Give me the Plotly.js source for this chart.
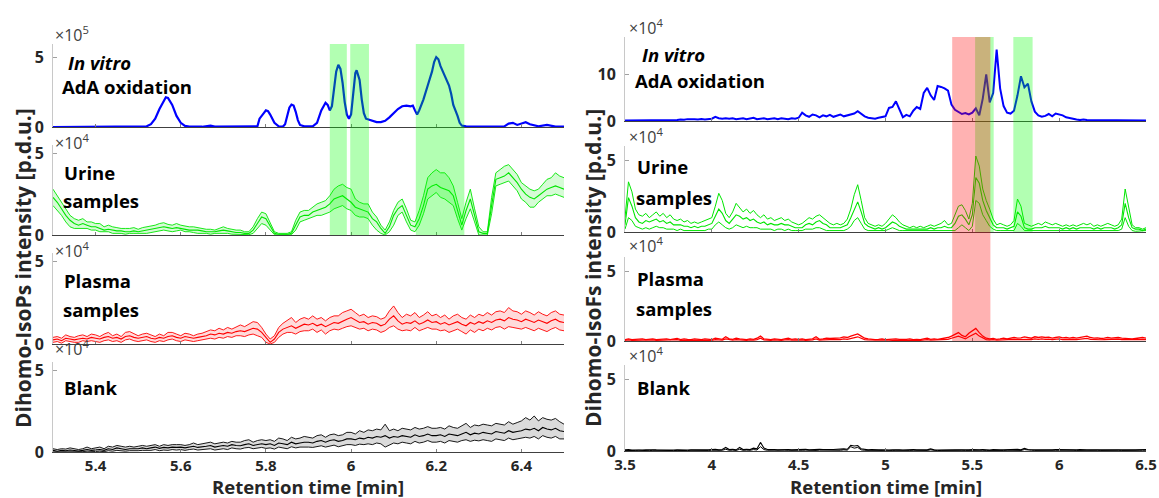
<!DOCTYPE html>
<html><head><meta charset="utf-8">
<script src="https://cdn.plot.ly/plotly-3.0.1.min.js"></script>
<style>html,body{margin:0;padding:0;background:#fff}#chart{width:1159px;height:498px}</style>
</head><body><div id="chart"></div>
<script>
// ---------- tick labels ----------
const leftTickVals = [5.4, 5.6, 5.8, 6.0, 6.2, 6.4];
const leftTickText = ["5.4", "5.6", "5.8", "6", "6.2", "6.4"];
const rightTickVals = [3.5, 4.0, 4.5, 5.0, 5.5, 6.0, 6.5];
const rightTickText = ["3.5", "4", "4.5", "5", "5.5", "6", "6.5"];

// ---------- LEFT panel (Dihomo-IsoPs), retention time 5.30..6.50 ----------
// In vitro AdA oxidation (x10^5)
const leftVitroT = [5.30,5.35,5.40,5.43,5.44,5.45,5.50,5.52,5.53,5.54,5.55,5.56,5.565,5.57,5.58,5.59,5.60,5.61,5.62,5.65,5.67,5.68,5.72,5.75,5.78,5.785,5.79,5.795,5.80,5.805,5.81,5.815,5.82,5.83,5.84,5.845,5.85,5.855,5.86,5.865,5.87,5.875,5.88,5.89,5.91,5.92,5.93,5.94,5.945,5.95,5.955,5.96,5.965,5.97,5.975,5.98,5.985,5.99,5.995,6.00,6.005,6.01,6.013,6.02,6.025,6.03,6.035,6.04,6.05,6.06,6.07,6.08,6.09,6.10,6.11,6.12,6.13,6.14,6.145,6.15,6.155,6.16,6.17,6.18,6.19,6.195,6.20,6.205,6.21,6.22,6.23,6.235,6.24,6.25,6.255,6.26,6.27,6.30,6.33,6.36,6.37,6.38,6.39,6.40,6.41,6.42,6.44,6.46,6.47,6.48,6.50];
const leftVitroY = [0,0.01,0.02,0.03,0.05,0.02,0.01,0.05,0.2,0.6,1.3,1.9,2.15,2.1,1.6,0.8,0.3,0.08,0.03,0.02,0.1,0.03,0.02,0.02,0.05,0.6,0.85,1.0,1.2,1.15,0.9,0.6,0.3,0.05,0.03,0.2,0.9,1.4,1.62,1.55,1.1,0.5,0.15,0.05,0.05,0.3,1.2,1.75,1.6,1.2,1.5,2.8,4.0,4.5,4.2,3.2,1.8,0.9,0.6,0.9,2.5,3.9,4.1,3.4,2.0,1.0,0.6,0.55,0.45,0.35,0.35,0.45,0.7,1.0,1.3,1.5,1.55,1.5,1.55,1.2,0.9,1.2,2.0,3.0,4.0,4.7,5.05,4.9,4.4,3.7,3.0,2.4,1.6,0.8,0.3,0.1,0.04,0.03,0.02,0.05,0.25,0.3,0.15,0.25,0.35,0.2,0.05,0.15,0.1,0.03,0.02];

// Urine samples (x10^4), step 0.01 min
const leftUrineHi = [2.8,2.4,2.0,1.6,1.2,1.0,0.9,1.0,0.8,0.8, 0.7,0.7,0.5,0.6,0.5,0.45,0.4,0.4,0.4,0.45, 0.35,0.45,0.5,0.55,0.6,0.7,0.75,0.65,0.6,0.7, 0.6,0.55,0.5,0.5,0.45,0.4,0.35,0.35,0.3,0.4, 0.5,0.4,0.35,0.3,0.3,0.2,0.2,0.5,1.0,1.4, 1.3,0.7,0.2,0.1,0.1,0.1,0.2,0.9,1.4,1.5, 1.5,1.7,1.9,2.0,2.1,2.4,2.8,3.0,3.1,2.9, 2.8,2.2,2.0,1.9,1.9,1.4,1.1,0.6,0.3,0.8, 1.5,2.0,2.2,1.6,0.9,0.8,1.5,2.4,3.5,3.8, 4.0,3.8,3.8,3.5,3.0,2.0,1.0,2.0,2.8,1.6, 0.5,0.2,0.2,2.3,3.8,4.0,4.2,4.3,4.0,3.7, 3.2,3.0,2.8,2.7,2.8,3.1,3.4,3.5,3.8,3.6, 3.5];
const leftUrineMid = [2.3,2.0,1.6,1.2,0.9,0.7,0.6,0.7,0.6,0.5, 0.5,0.4,0.3,0.35,0.3,0.25,0.25,0.2,0.2,0.25, 0.2,0.25,0.3,0.35,0.4,0.45,0.5,0.45,0.4,0.45, 0.4,0.35,0.3,0.3,0.3,0.25,0.2,0.2,0.2,0.25, 0.3,0.25,0.2,0.15,0.15,0.1,0.1,0.3,0.7,1.1, 1.0,0.5,0.1,0.05,0.05,0.05,0.1,0.6,1.1,1.2, 1.2,1.4,1.5,1.6,1.7,1.9,2.2,2.3,2.4,2.2, 2.0,1.7,1.6,1.5,1.4,1.0,0.8,0.4,0.1,0.5, 1.2,1.6,1.8,1.2,0.6,0.5,1.0,1.8,2.8,3.0, 3.1,2.9,2.8,2.7,2.4,1.5,0.6,1.5,2.2,1.2, 0.2,0.1,0.1,1.8,3.4,3.5,3.6,3.8,3.5,3.2, 2.8,2.5,2.3,2.2,2.4,2.6,2.8,2.9,3.0,2.9, 2.8];
const leftUrineLo = [1.8,1.5,1.2,0.8,0.5,0.4,0.4,0.4,0.4,0.3, 0.3,0.2,0.2,0.2,0.1,0.1,0.1,0.05,0.1,0.1, 0.1,0.1,0.1,0.15,0.2,0.25,0.3,0.25,0.2,0.25, 0.3,0.2,0.2,0.15,0.1,0.1,0.1,0.05,0.1,0.1, 0.1,0.1,0.05,0.05,0.05,0.02,0.02,0.1,0.4,0.7, 0.6,0.3,0.02,0,0,0,0.02,0.3,0.8,0.9, 1.0,1.1,1.2,1.2,1.3,1.4,1.6,1.7,1.8,1.6, 1.5,1.2,1.1,1.1,1.0,0.6,0.3,0.1,0,0.2, 0.6,1.2,1.4,0.8,0.3,0.2,0.6,1.3,2.2,2.4, 2.6,2.3,2.2,2.0,1.8,1.0,0.3,1.0,1.6,0.8, 0,0,0,1.3,3.0,3.1,3.2,3.3,3.0,2.7, 2.2,2.0,1.7,1.7,2.0,2.2,2.4,2.4,2.5,2.4, 2.3];

// Plasma samples (x10^4), step 0.01 min
const leftPlasmaHi = [0.4,0.45,0.35,0.55,0.45,0.4,0.5,0.55,0.45,0.6, 0.55,0.45,0.6,0.7,0.5,0.6,0.45,0.7,0.75,0.6, 0.5,0.6,0.65,0.55,0.45,0.6,0.5,0.7,0.7,0.6, 0.5,0.65,0.6,0.5,0.6,0.65,0.75,0.85,0.8,0.95, 0.85,1.0,0.9,1.05,1.15,1.05,1.2,1.35,1.3,1.0, 0.6,0.3,0.5,1.0,1.25,1.4,1.6,1.3,1.5,1.6, 1.5,1.7,1.5,1.6,1.4,1.6,1.7,1.7,1.9,2.0, 2.1,1.9,1.7,1.8,1.6,1.7,1.65,1.5,1.6,2.0, 2.3,1.9,1.6,1.8,1.7,1.9,1.6,1.75,1.95,1.7, 1.8,1.6,1.75,1.5,1.7,1.8,1.6,1.5,1.75,1.6, 1.8,1.7,1.9,1.75,1.95,2.0,1.9,2.2,2.0,1.95, 1.8,2.0,1.9,1.75,1.95,1.8,1.7,1.9,2.0,1.8, 1.75];
const leftPlasmaMid = [0.25,0.3,0.2,0.35,0.3,0.25,0.3,0.35,0.3,0.4, 0.35,0.3,0.4,0.45,0.35,0.4,0.3,0.45,0.5,0.4, 0.35,0.4,0.45,0.35,0.3,0.4,0.35,0.45,0.5,0.4, 0.35,0.45,0.4,0.35,0.4,0.45,0.5,0.6,0.55,0.65, 0.6,0.7,0.65,0.75,0.8,0.75,0.85,0.95,0.9,0.7, 0.4,0.1,0.3,0.7,0.9,1.0,1.1,0.95,1.1,1.2, 1.15,1.25,1.1,1.2,1.05,1.2,1.3,1.25,1.4,1.5, 1.6,1.45,1.3,1.35,1.2,1.3,1.25,1.1,1.2,1.5, 1.7,1.4,1.2,1.3,1.25,1.4,1.2,1.3,1.45,1.3, 1.35,1.2,1.3,1.15,1.25,1.35,1.2,1.1,1.3,1.2, 1.35,1.25,1.4,1.3,1.45,1.5,1.4,1.6,1.5,1.45, 1.35,1.5,1.4,1.3,1.45,1.35,1.25,1.4,1.5,1.35, 1.3];
const leftPlasmaLo = [0.1,0.15,0.05,0.2,0.15,0.1,0.1,0.2,0.15,0.2, 0.15,0.1,0.2,0.25,0.15,0.2,0.1,0.25,0.3,0.2, 0.15,0.2,0.25,0.15,0.1,0.2,0.15,0.25,0.3,0.2, 0.15,0.25,0.2,0.15,0.2,0.25,0.3,0.35,0.3,0.4, 0.35,0.45,0.4,0.5,0.5,0.45,0.55,0.6,0.5,0.4, 0.1,0,0.1,0.4,0.6,0.7,0.7,0.6,0.75,0.8, 0.8,0.9,0.7,0.85,0.6,0.8,0.9,0.85,0.95,1.05, 1.1,1.0,0.9,0.95,0.8,0.9,0.85,0.7,0.8,1.0, 1.1,0.9,0.8,0.85,0.8,1.0,0.8,0.9,1.0,0.9, 0.9,0.8,0.85,0.7,0.8,0.9,0.75,0.6,0.85,0.7, 0.9,0.8,0.95,0.85,1.0,1.05,0.9,1.05,1.0,0.95, 0.9,1.0,0.9,0.8,0.95,0.85,0.75,0.9,1.0,0.85, 0.8];

// Blank (x10^4), step 0.01 min
const leftBlankHi = [0.2,0.15,0.2,0.18,0.25,0.2,0.15,0.2,0.3,0.2, 0.25,0.3,0.2,0.35,0.3,0.4,0.35,0.3,0.35,0.3, 0.35,0.4,0.35,0.4,0.45,0.35,0.45,0.4,0.45,0.45, 0.45,0.4,0.45,0.55,0.45,0.5,0.55,0.6,0.5,0.55, 0.6,0.55,0.65,0.6,0.6,0.7,0.75,0.6,0.7,0.75, 0.7,0.75,0.65,0.85,0.8,0.7,0.9,0.8,0.85,0.95, 0.9,0.85,1.0,1.05,0.9,1.05,1.1,1.0,1.05,1.2, 1.2,1.1,1.3,1.2,1.35,1.3,1.4,1.35,1.7,1.3, 1.4,1.3,1.45,1.4,1.35,1.5,1.4,1.45,1.55,1.45, 1.45,1.5,1.4,1.6,1.5,1.45,1.6,1.75,1.5,1.65, 1.6,1.7,1.65,1.6,1.75,1.7,1.65,1.85,1.7,1.8, 1.9,2.1,1.95,2.2,1.9,2.1,2.0,1.95,2.05,1.85, 1.7];
const leftBlankMid = [0.1,0.05,0.1,0.08,0.12,0.1,0.06,0.1,0.15,0.1, 0.12,0.15,0.1,0.2,0.15,0.25,0.2,0.15,0.2,0.18, 0.2,0.25,0.2,0.25,0.3,0.22,0.28,0.25,0.3,0.28, 0.3,0.25,0.3,0.35,0.28,0.3,0.35,0.4,0.3,0.35, 0.4,0.35,0.45,0.4,0.38,0.45,0.5,0.4,0.45,0.5, 0.45,0.5,0.4,0.55,0.5,0.45,0.6,0.5,0.55,0.6, 0.6,0.55,0.65,0.7,0.6,0.7,0.75,0.65,0.7,0.8, 0.8,0.75,0.85,0.8,0.9,0.85,0.95,0.9,1.0,0.85, 0.95,0.9,1.0,0.95,0.9,1.05,0.95,1.0,1.1,1.0, 1.0,1.05,0.95,1.1,1.05,1.0,1.1,1.2,1.05,1.15, 1.1,1.2,1.15,1.1,1.25,1.2,1.15,1.3,1.2,1.25, 1.3,1.4,1.35,1.45,1.3,1.5,1.4,1.35,1.45,1.3, 1.25];
const leftBlankLo = [0,0,0.02,0,0.03,0.02,0,0.02,0.05,0.02, 0.03,0.05,0.02,0.08,0.05,0.1,0.08,0.05,0.08,0.06, 0.08,0.1,0.08,0.1,0.15,0.08,0.12,0.1,0.15,0.12, 0.15,0.1,0.15,0.18,0.12,0.15,0.18,0.2,0.12,0.18, 0.2,0.15,0.25,0.2,0.18,0.25,0.28,0.2,0.22,0.28, 0.22,0.25,0.18,0.3,0.25,0.2,0.32,0.25,0.3,0.32, 0.3,0.28,0.35,0.38,0.3,0.38,0.42,0.32,0.38,0.45, 0.45,0.4,0.48,0.45,0.5,0.45,0.55,0.5,0.3,0.45, 0.55,0.5,0.6,0.55,0.5,0.65,0.55,0.6,0.7,0.6, 0.6,0.65,0.55,0.7,0.65,0.6,0.7,0.75,0.65,0.72, 0.68,0.75,0.7,0.65,0.8,0.75,0.7,0.85,0.75,0.8, 0.85,0.9,0.85,0.95,0.8,1.0,0.9,0.85,0.95,0.8, 0.8];

// ---------- RIGHT panel (Dihomo-IsoFs), retention time 3.50..6.50, step 0.02 ----------
// In vitro AdA oxidation (x10^4)
const rightVitro = [0.1,0.1,0.15,0.1,0.1,0.15,0.1,0.15,0.2,0.1, 0.15,0.2,0.15,0.2,0.25,0.2,0.3,0.25,0.4,0.3, 0.35,0.3,0.4,0.3,0.35,0.5,0.9,0.6,0.5,0.6, 0.5,0.6,0.4,0.5,0.6,0.4,0.5,0.7,0.4,0.5, 0.6,0.4,0.5,0.6,0.4,0.6,0.5,0.4,0.6,0.5, 0.7,1.8,1.2,0.9,1.4,1.2,0.8,1.2,1.0,1.3, 0.9,1.1,1.4,1.0,1.2,1.3,1.6,2.1,1.5,1.0, 0.7,0.6,0.5,0.7,0.8,1.0,2.8,3.0,4.2,2.3, 0.8,1.3,1.0,2.2,3.0,2.6,6.0,7.1,5.5,4.5, 7.5,7.3,7.0,6.5,3.5,2.4,1.9,1.5,1.7,1.4, 1.8,2.7,1.2,4.8,10.0,4.0,6.0,15.3,7.0,3.2, 1.8,1.6,2.2,5.5,9.6,7.2,8.0,4.2,2.0,1.2, 0.9,1.1,1.5,1.0,1.6,1.4,1.2,0.8,0.6,0.4, 0.3,0.2,0.3,0.2,0.2,0.15,0.1,0.15,0.1,0.1, 0.1,0.15,0.1,0.1,0.1,0.15,0.1,0.1,0.1,0.1, 0.1];

// Urine samples (x10^4)
const rightUrineHi = [1.0,3.5,2.8,1.6,1.2,1.1,1.3,1.0,1.2,1.4, 1.1,1.3,1.0,1.2,0.9,0.8,0.9,0.7,0.8,0.6, 0.7,0.6,0.7,0.8,0.9,1.0,1.8,2.7,2.2,1.3, 1.0,1.4,2.0,1.7,1.4,1.6,1.3,1.5,1.2,1.0, 1.2,0.9,1.0,0.8,0.9,1.0,0.8,0.9,0.7,0.6, 0.5,0.6,0.8,1.0,0.9,1.1,1.2,1.0,0.8,0.6, 0.5,0.6,0.5,0.6,0.9,1.6,2.6,3.3,2.2,1.0, 0.6,0.5,0.4,0.5,0.4,0.6,0.9,1.2,1.0,0.7, 0.5,0.4,0.3,0.4,0.3,0.4,0.3,0.4,0.5,0.4, 0.5,0.6,0.8,0.5,0.6,1.2,1.8,1.9,1.5,0.9, 2.0,5.3,4.6,3.0,2.2,1.6,0.9,0.5,0.6,0.5, 0.4,0.5,0.8,2.3,1.8,0.6,0.5,0.4,0.5,0.6, 0.5,0.7,0.6,0.5,0.6,0.5,0.4,0.5,0.4,0.5, 0.4,0.5,0.6,0.5,0.6,0.4,0.5,0.4,0.5,0.6, 0.5,0.4,0.5,0.9,3.0,1.6,0.5,0.3,0.3,0.2, 0.3];
const rightUrineMid = [0.5,2.4,1.8,1.0,0.7,0.6,0.8,0.7,0.8,0.9, 0.7,0.8,0.6,0.7,0.5,0.5,0.5,0.4,0.4,0.3, 0.4,0.3,0.4,0.4,0.5,0.6,1.1,1.6,1.3,0.8, 0.6,0.9,1.2,1.1,0.9,1.0,0.8,0.9,0.7,0.6, 0.7,0.5,0.6,0.5,0.5,0.6,0.5,0.5,0.4,0.3, 0.3,0.3,0.5,0.6,0.5,0.7,0.8,0.6,0.5,0.3, 0.3,0.3,0.3,0.4,0.5,1.0,1.6,2.1,1.4,0.6, 0.4,0.3,0.2,0.3,0.2,0.3,0.5,0.7,0.6,0.4, 0.3,0.2,0.2,0.2,0.2,0.2,0.2,0.2,0.3,0.2, 0.3,0.3,0.4,0.3,0.3,0.6,1.1,1.2,0.9,0.5, 1.2,3.8,3.4,2.2,1.5,1.0,0.5,0.3,0.3,0.3, 0.2,0.3,0.4,1.4,1.1,0.3,0.2,0.2,0.3,0.3, 0.3,0.4,0.3,0.3,0.3,0.3,0.2,0.3,0.2,0.3, 0.2,0.3,0.3,0.3,0.3,0.2,0.3,0.2,0.3,0.3, 0.3,0.2,0.3,0.5,2.0,1.0,0.3,0.2,0.2,0.1, 0.2];
const rightUrineLo = [0.2,1.0,0.8,0.4,0.3,0.2,0.3,0.2,0.3,0.4, 0.3,0.3,0.2,0.2,0.2,0.1,0.2,0.1,0.1,0.1, 0.1,0.1,0.1,0.1,0.2,0.2,0.5,0.7,0.5,0.3, 0.2,0.3,0.5,0.4,0.3,0.4,0.3,0.3,0.3,0.2, 0.2,0.2,0.2,0.1,0.2,0.2,0.1,0.2,0.1,0.1, 0.1,0.1,0.2,0.2,0.2,0.3,0.3,0.2,0.1,0.1, 0.1,0.1,0.1,0.1,0.2,0.4,0.8,1.0,0.6,0.2, 0.1,0.1,0.1,0.1,0.1,0.1,0.2,0.3,0.2,0.1, 0.1,0.1,0.05,0.05,0.05,0.05,0.05,0.1,0.1,0.1, 0.1,0.1,0.1,0.1,0.1,0.1,0.3,0.5,0.3,0.1, 0.4,2.2,2.0,1.2,0.8,0.4,0.2,0.1,0.1,0.1, 0.1,0.1,0.1,0.6,0.4,0.1,0.1,0.05,0.1,0.1, 0.1,0.1,0.1,0.1,0.1,0.1,0.05,0.1,0.05,0.1, 0.05,0.1,0.1,0.1,0.1,0.05,0.1,0.05,0.1,0.1, 0.1,0.05,0.1,0.2,1.0,0.4,0.1,0.05,0.05,0.05, 0.1];

// Plasma samples (x10^4)
const rightPlasmaA = [0.1,0.15,0.1,0.12,0.1,0.15,0.1,0.12,0.15,0.1, 0.12,0.1,0.15,0.1,0.12,0.18,0.1,0.15,0.12,0.1, 0.15,0.12,0.1,0.15,0.12,0.1,0.2,0.15,0.12,0.3, 0.15,0.12,0.2,0.15,0.12,0.1,0.15,0.12,0.2,0.35, 0.15,0.12,0.1,0.15,0.12,0.1,0.15,0.2,0.12,0.15, 0.12,0.15,0.1,0.12,0.15,0.3,0.12,0.15,0.2,0.18, 0.2,0.25,0.22,0.3,0.25,0.35,0.4,0.5,0.35,0.2, 0.15,0.12,0.1,0.12,0.15,0.1,0.12,0.1,0.15,0.12, 0.1,0.12,0.15,0.1,0.12,0.1,0.15,0.2,0.12,0.15, 0.12,0.15,0.2,0.25,0.35,0.5,0.6,0.4,0.3,0.55, 0.7,0.9,0.6,0.35,0.2,0.15,0.18,0.12,0.15,0.2, 0.15,0.2,0.25,0.2,0.22,0.3,0.25,0.2,0.3,0.25, 0.3,0.25,0.28,0.2,0.25,0.3,0.22,0.25,0.2,0.25, 0.2,0.25,0.3,0.35,0.25,0.2,0.22,0.18,0.2,0.25, 0.2,0.22,0.25,0.2,0.18,0.2,0.15,0.18,0.2,0.25, 0.2];
const rightPlasmaB = [0.05,0.08,0.05,0.06,0.05,0.08,0.05,0.06,0.08,0.05, 0.06,0.05,0.08,0.05,0.06,0.1,0.05,0.08,0.06,0.05, 0.08,0.06,0.05,0.08,0.06,0.05,0.1,0.08,0.06,0.15, 0.08,0.06,0.1,0.08,0.06,0.05,0.08,0.06,0.1,0.2, 0.08,0.06,0.05,0.08,0.06,0.05,0.08,0.1,0.06,0.08, 0.06,0.08,0.05,0.06,0.08,0.15,0.06,0.08,0.1,0.1, 0.1,0.12,0.1,0.15,0.12,0.18,0.25,0.3,0.2,0.1, 0.08,0.06,0.05,0.06,0.08,0.05,0.06,0.05,0.08,0.06, 0.05,0.06,0.08,0.05,0.06,0.05,0.08,0.1,0.06,0.08, 0.06,0.08,0.1,0.12,0.2,0.3,0.35,0.25,0.15,0.3, 0.4,0.55,0.35,0.2,0.1,0.08,0.1,0.06,0.08,0.1, 0.08,0.1,0.12,0.1,0.12,0.15,0.12,0.1,0.15,0.12, 0.15,0.12,0.14,0.1,0.12,0.15,0.1,0.12,0.1,0.12, 0.1,0.12,0.15,0.18,0.12,0.1,0.12,0.09,0.1,0.12, 0.1,0.12,0.13,0.1,0.09,0.1,0.08,0.09,0.1,0.12, 0.1];

// Blank (x10^4)
const rightBlankA = [0.08,0.1,0.06,0.08,0.1,0.07,0.08,0.06,0.09,0.08, 0.07,0.08,0.06,0.09,0.07,0.08,0.06,0.08,0.07,0.09, 0.08,0.1,0.07,0.09,0.08,0.1,0.12,0.08,0.1,0.25, 0.1,0.12,0.08,0.25,0.1,0.12,0.1,0.2,0.15,0.6, 0.2,0.1,0.12,0.1,0.08,0.1,0.12,0.1,0.08,0.1, 0.08,0.1,0.12,0.08,0.1,0.08,0.12,0.1,0.08,0.1, 0.1,0.12,0.1,0.15,0.12,0.4,0.35,0.38,0.15,0.1, 0.08,0.1,0.07,0.09,0.08,0.1,0.07,0.08,0.1,0.08, 0.07,0.09,0.08,0.1,0.08,0.07,0.09,0.08,0.15,0.08, 0.07,0.08,0.1,0.08,0.07,0.09,0.08,0.1,0.08,0.09, 0.1,0.08,0.09,0.1,0.08,0.07,0.1,0.12,0.09,0.08, 0.1,0.08,0.09,0.12,0.08,0.18,0.1,0.09,0.08,0.1, 0.08,0.1,0.09,0.08,0.1,0.09,0.12,0.08,0.1,0.09, 0.08,0.1,0.12,0.09,0.08,0.1,0.09,0.08,0.1,0.09, 0.08,0.1,0.09,0.08,0.1,0.12,0.09,0.08,0.1,0.09, 0.1];
const rightBlankB = [0.03,0.05,0.02,0.04,0.05,0.03,0.04,0.02,0.05,0.04, 0.03,0.04,0.02,0.05,0.03,0.04,0.02,0.04,0.03,0.05, 0.04,0.05,0.03,0.05,0.04,0.05,0.06,0.04,0.05,0.12, 0.05,0.06,0.04,0.12,0.05,0.06,0.05,0.1,0.07,0.3, 0.1,0.05,0.06,0.05,0.04,0.05,0.06,0.05,0.04,0.05, 0.04,0.05,0.06,0.04,0.05,0.04,0.06,0.05,0.04,0.05, 0.05,0.06,0.05,0.08,0.06,0.3,0.2,0.25,0.08,0.05, 0.04,0.05,0.03,0.05,0.04,0.05,0.03,0.04,0.05,0.04, 0.03,0.05,0.04,0.05,0.04,0.03,0.05,0.04,0.08,0.04, 0.03,0.04,0.05,0.04,0.03,0.05,0.04,0.05,0.04,0.05, 0.05,0.04,0.05,0.05,0.04,0.03,0.05,0.06,0.05,0.04, 0.05,0.04,0.05,0.06,0.04,0.1,0.05,0.05,0.04,0.05, 0.04,0.05,0.05,0.04,0.05,0.05,0.06,0.04,0.05,0.05, 0.04,0.05,0.06,0.05,0.04,0.05,0.05,0.04,0.05,0.05, 0.04,0.05,0.05,0.04,0.05,0.06,0.05,0.04,0.05,0.05, 0.05];

// highlighted retention-time windows
const leftGreenWindows = [[5.950, 5.990], [5.998, 6.042], [6.152, 6.266]];
const rightRedWindows = [[5.384, 5.604]];
const rightGreenWindows = [[5.516, 5.623], [5.736, 5.847]];

// ---------- build ----------
function grid(a, d, n) { return Array.from({length: n}, (_, i) => +(a + i * d).toFixed(3)); }
const tL = grid(5.30, 0.01, leftUrineMid.length);
const tR = grid(3.50, 0.02, rightVitro.length);

const W = 1159, H = 498;
const px = v => v / W;
const py = v => 1 - v / H;

const traces = [];
function line(x, y, ax, color, width, extra) {
  traces.push(Object.assign({type: 'scatter', mode: 'lines', x: x, y: y,
    xaxis: 'x' + ax, yaxis: 'y' + ax, line: {color: color, width: width},
    hoverinfo: 'skip', showlegend: false}, extra || {}));
}
function band(x, lo, mid, hi, ax, color, fill) {
  line(x, lo, ax, color, 0.9);
  line(x, hi, ax, color, 0.9, {fill: 'tonexty', fillcolor: fill});
  line(x, mid, ax, color, 1.1);
}

line(leftVitroT, leftVitroY, '', '#0000ff', 2.2);
band(tL, leftUrineLo, leftUrineMid, leftUrineHi, 2, '#00e600', 'rgba(0,230,0,0.16)');
band(tL, leftPlasmaLo, leftPlasmaMid, leftPlasmaHi, 3, '#ff0000', 'rgba(255,0,0,0.14)');
band(tL, leftBlankLo, leftBlankMid, leftBlankHi, 4, '#000000', 'rgba(0,0,0,0.14)');

line(tR, rightVitro, 5, '#0000ff', 2);
line(tR, rightUrineLo, 6, '#00e600', 1);
line(tR, rightUrineHi, 6, '#00e600', 1);
line(tR, rightUrineMid, 6, '#00e600', 1.1);
line(tR, rightPlasmaB, 7, '#ff0000', 1.2);
line(tR, rightPlasmaA, 7, '#ff0000', 1.3);
line(tR, rightBlankB, 8, '#000000', 1);
line(tR, rightBlankA, 8, '#000000', 1.1);

const FONT = '"Open Sans", "Liberation Sans", Arial, sans-serif';
const layout = {
  width: W, height: H, margin: {l: 0, r: 0, t: 0, b: 0},
  paper_bgcolor: '#ffffff', plot_bgcolor: 'rgba(0,0,0,0)',
  showlegend: false, font: {family: FONT, color: '#262626'},
  shapes: [], annotations: []
};

// panel geometry in pixels: [x0, x1], and for each row [top, bottom]
const panels = [
  {x: [53, 564], rows: [[44, 127], [145, 235], [253, 344], [362, 452]], ranges: [[0, 6], [0, 5.5], [0, 5.5], [0, 5.5]],
   xr: [5.3, 6.5], tv: leftTickVals, tt: leftTickText, yt: [[0, 5], [0, 5], [0, 5], [0, 5]], first: 1},
  {x: [625, 1146], rows: [[37, 121], [146, 232], [257, 341], [365, 451]], ranges: [[0, 18], [0, 6], [0, 6], [0, 6]],
   xr: [3.5, 6.5], tv: rightTickVals, tt: rightTickText, yt: [[0, 10], [0, 5], [0, 5], [0, 5]], first: 5}
];
panels.forEach(p => {
  p.rows.forEach((r, k) => {
    const n = p.first + k;
    const xs = n === 1 ? 'xaxis' : 'xaxis' + n;
    const ys = n === 1 ? 'yaxis' : 'yaxis' + n;
    layout[xs] = {domain: [px(p.x[0]), px(p.x[1])], anchor: n === 1 ? 'y' : 'y' + n, range: p.xr,
      showline: true, linecolor: '#404040', linewidth: 1, showgrid: false, zeroline: false,
      ticks: 'inside', ticklen: 3, tickcolor: '#808080', tickmode: 'array', tickvals: p.tv, ticktext: p.tt,
      showticklabels: k === 3, tickfont: {family: FONT, size: 15, weight: 'bold', color: '#262626'},
      ticklabelstandoff: 0, automargin: false, fixedrange: true};
    layout[ys] = {domain: [py(r[1]), py(r[0])], anchor: n === 1 ? 'x' : 'x' + n, range: p.ranges[k],
      showline: true, linecolor: '#c8c8c8', linewidth: 1, showgrid: false, zeroline: false,
      ticks: 'inside', ticklen: 4, tickcolor: '#a0a0a0', tickmode: 'array', tickvals: p.yt[k],
      ticktext: p.yt[k].map(String), tickfont: {family: FONT, size: 16, weight: 'bold', color: '#262626'},
      ticklabelstandoff: 5, automargin: false, fixedrange: true};
  });
});

function rect(xref, win, yTop, yBot, color) {
  win.forEach(w => layout.shapes.push({type: 'rect', xref: xref, yref: 'paper', x0: w[0], x1: w[1],
    y0: py(yBot), y1: py(yTop), fillcolor: color, line: {width: 0}, layer: 'above'}));
}
rect('x', leftGreenWindows, 44, 235, 'rgba(0,255,0,0.3)');
rect('x5', rightGreenWindows, 37, 232, 'rgba(0,255,0,0.3)');
rect('x5', rightRedWindows, 37, 341, 'rgba(255,0,0,0.3)');

function note(text, x, y, size, opts) {
  layout.annotations.push(Object.assign({text: text, xref: 'paper', yref: 'paper', x: px(x), y: py(y),
    xanchor: 'left', yanchor: 'middle', showarrow: false,
    font: {family: FONT, size: size, color: '#000000', weight: 'bold'}}, opts || {}));
}
// sample labels
note('<i>In vitro</i>', 66, 62, 18.5);
note('AdA oxidation', 60, 87, 18.5);
note('Urine', 62, 172, 18.5);
note('samples', 61, 200, 18.5);
note('Plasma', 62, 280, 18.5);
note('samples', 61, 309, 18.5);
note('Blank', 62, 387, 18.5);
note('<i>In vitro</i>', 640, 54, 18.5);
note('AdA oxidation', 633, 80, 18.5);
note('Urine', 635, 167, 18.5);
note('samples', 634, 197, 18.5);
note('Plasma', 635, 278, 18.5);
note('samples', 634, 308, 18.5);
note('Blank', 635, 387, 18.5);
// exponent labels
const expFont = {family: FONT, size: 16, color: '#404040', weight: 'normal'};
[[53, 34, 5], [53, 142, 4], [53, 250, 4], [53, 348, 4], [627, 27, 4], [627, 136, 4], [627, 245, 4], [627, 355, 4]]
  .forEach(e => note('×10<sup>' + e[2] + '</sup>', e[0], e[1], 16, {font: expFont}));
// axis titles
const titleFont = {family: FONT, size: 18.5, color: '#262626', weight: 'bold'};
const yTitleFont = {family: FONT, size: 21, color: '#262626', weight: 'bold'};
note('Dihomo-IsoPs intensity [p.d.u.]', 23, 268, 21, {textangle: -90, xanchor: 'center', font: yTitleFont});
note('Dihomo-IsoFs intensity [p.d.u.]', 593, 268, 21, {textangle: -90, xanchor: 'center', font: yTitleFont});
note('Retention time [min]', 308, 486, 18.5, {xanchor: 'center', font: titleFont});
note('Retention time [min]', 886, 486, 18.5, {xanchor: 'center', font: titleFont});

Plotly.newPlot('chart', traces, layout, {staticPlot: true, displayModeBar: false});
</script>
</body></html>
